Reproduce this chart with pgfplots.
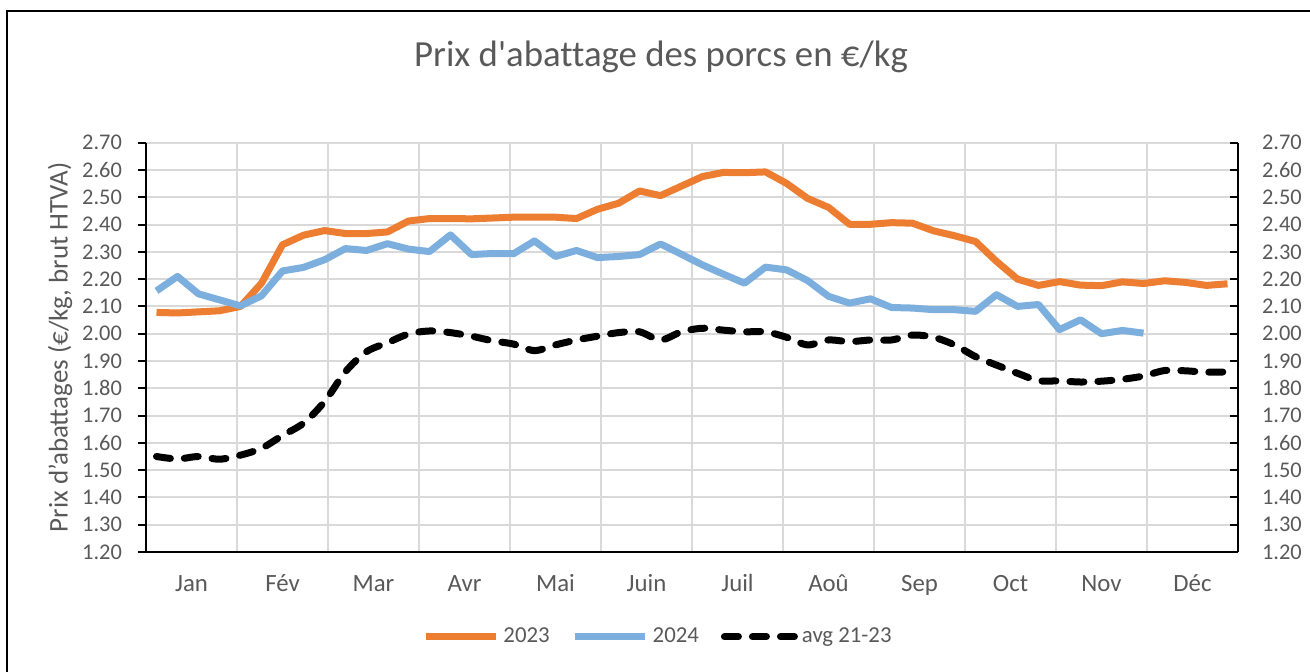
\documentclass[border=0pt]{standalone}
\usepackage{fontspec}
\setmainfont{Carlito}
\usepackage{pgfplots}
\pgfplotsset{compat=1.18}
\definecolor{orng}{RGB}{237,125,49}
\definecolor{lblue}{RGB}{124,175,221}
\definecolor{txt}{RGB}{89,89,89}
\definecolor{grd}{RGB}{217,217,217}

\pgfplotstableread{
x y
1 2.078
2 2.076
3 2.080
4 2.084
5 2.100
6 2.185
7 2.326
8 2.361
9 2.378
10 2.367
11 2.367
12 2.373
13 2.413
14 2.422
15 2.422
16 2.421
17 2.424
18 2.427
19 2.427
20 2.427
21 2.422
22 2.456
23 2.478
24 2.523
25 2.506
26 2.541
27 2.576
28 2.591
29 2.590
30 2.593
31 2.551
32 2.496
33 2.463
34 2.401
35 2.401
36 2.407
37 2.405
38 2.377
39 2.359
40 2.338
41 2.265
42 2.200
43 2.177
44 2.191
45 2.178
46 2.176
47 2.190
48 2.184
49 2.194
50 2.188
51 2.177
52 2.183
}\dataA

\pgfplotstableread{
x y
1 2.157
2 2.210
3 2.146
4 2.124
5 2.102
6 2.139
7 2.230
8 2.243
9 2.271
10 2.312
11 2.305
12 2.330
13 2.310
14 2.301
15 2.362
16 2.290
17 2.294
18 2.293
19 2.340
20 2.283
21 2.305
22 2.279
23 2.283
24 2.290
25 2.329
26 2.291
27 2.252
28 2.218
29 2.185
30 2.244
31 2.234
32 2.195
33 2.137
34 2.112
35 2.128
36 2.096
37 2.094
38 2.088
39 2.088
40 2.082
41 2.143
42 2.100
43 2.107
44 2.015
45 2.051
46 2.000
47 2.012
48 2.002
}\dataB

\pgfplotstableread{
x y
1 1.550
2 1.541
3 1.550
4 1.540
5 1.555
6 1.580
7 1.627
8 1.672
9 1.751
10 1.861
11 1.934
12 1.967
13 1.999
14 2.010
15 2.004
16 1.991
17 1.974
18 1.962
19 1.938
20 1.959
21 1.977
22 1.991
23 2.004
24 2.007
25 1.977
26 2.007
27 2.020
28 2.013
29 2.007
30 2.007
31 1.987
32 1.959
33 1.977
34 1.971
35 1.977
36 1.977
37 1.995
38 1.987
39 1.959
40 1.916
41 1.885
42 1.855
43 1.828
44 1.827
45 1.823
46 1.826
47 1.833
48 1.845
49 1.865
50 1.864
51 1.859
52 1.860
}\dataC

\begin{document}
\begin{tikzpicture}[x=1bp,y=1bp]
\useasboundingbox (0,0) rectangle (655,335.5);
\draw[line width=1.2bp] (3.5,-5) -- (3.5,330) -- (660,330);
\node[font=\fontsize{18.4bp}{22bp}\selectfont\addfontfeatures{Ligatures=NoCommon}, text=txt, anchor=base] at (330.5,302.2) {Prix d\textquotesingle abattage des porcs en €/kg};

\begin{axis}[
  at={(73bp,59.5bp)}, anchor=south west, scale only axis,
  width=546bp, height=204.65bp,
  xmin=0.5, xmax=52.5, ymin=1.2, ymax=2.7,
  axis x line*=bottom, axis y line*=left,
  axis line style={-, black, line width=1bp},
  xtick={2.6667,7,11.3333,15.6667,20,24.3333,28.6667,33,37.3333,41.6667,46,50.3333},
  xticklabels={Jan,Fév,Mar,Avr,Mai,Juin,Juil,Aoû,Sep,Oct,Nov,Déc},
  minor xtick={4.8333,9.1667,13.5,17.8333,22.1667,26.5,30.8333,35.1667,39.5,43.8333,48.1667},
  x tick style={draw=none},
  xminorgrids=true, ymajorgrids=true,
  minor grid style={grd, line width=1bp},
  major grid style={grd, line width=1bp},
  ytick={1.2,1.3,1.4,1.5,1.6,1.7,1.8,1.9,2.0,2.1,2.2,2.3,2.4,2.5,2.6,2.7},
  y tick style={black, line width=1bp},
  major tick length=4bp, tick align=outside,
  /pgf/number format/.cd, fixed, fixed zerofill, precision=2, assume math mode=true, /pgfplots/.cd,
  yticklabel style={font=\fontsize{11.2bp}{13bp}\selectfont, text=txt, xshift=-4.5bp},
  xticklabel style={font=\fontsize{12.4bp}{14bp}\selectfont, text=txt, anchor=north, inner sep=0pt, text height=8bp, text depth=2bp, yshift=-7.5bp},
  ylabel={Prix d’abattages (€/kg, brut HTVA)},
  ylabel style={at={(axis description cs:-0.0788,0.5)}, anchor=center, font=\fontsize{13.5bp}{15bp}\selectfont, text=txt},
  legend style={at={(0.4698,-0.207)}, anchor=center, draw=none, fill=none, font=\fontsize{11.4bp}{14bp}\selectfont, text=txt, legend columns=3, /tikz/every even column/.append style={column sep=9bp}, nodes={inner sep=2bp}},
  legend image code/.code={\draw[#1] (0bp,0bp) -- (35bp,0bp);},
]
\addplot[orng, line width=3.5bp, line join=round] table[x=x,y=y] {\dataA};
\addlegendentry{2023}
\addplot[lblue, line width=3.5bp, line join=round] table[x=x,y=y] {\dataB};
\addlegendentry{2024}
\addplot[black, line width=3.5bp, dash pattern=on 7bp off 7bp, line cap=round, smooth, tension=0.5] table[x=x,y=y] {\dataC};
\addlegendentry{avg 21-23}
\end{axis}

\begin{axis}[
  at={(73bp,59.5bp)}, anchor=south west, scale only axis,
  width=546bp, height=204.65bp,
  xmin=0.5, xmax=52.5, ymin=1.2, ymax=2.7,
  axis x line=none, axis y line*=right,
  axis line style={-, black, line width=1bp},
  ytick={1.2,1.3,1.4,1.5,1.6,1.7,1.8,1.9,2.0,2.1,2.2,2.3,2.4,2.5,2.6,2.7},
  y tick style={black, line width=1bp},
  major tick length=4bp, tick align=inside,
  /pgf/number format/.cd, fixed, fixed zerofill, precision=2, assume math mode=true, /pgfplots/.cd,
  yticklabel style={font=\fontsize{11.2bp}{13bp}\selectfont, text=txt, xshift=8.5bp},
]
\end{axis}
\end{tikzpicture}
\end{document}
